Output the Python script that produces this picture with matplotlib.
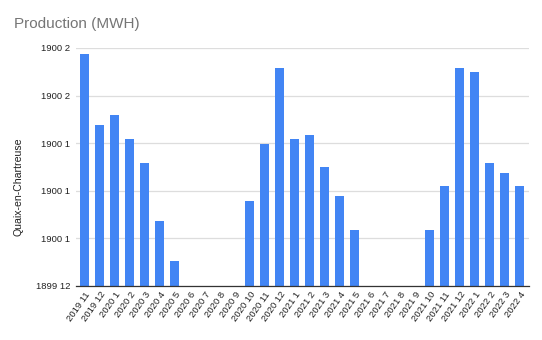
import matplotlib.pyplot as plt

plt.rcParams['font.family'] = ['Liberation Sans', 'DejaVu Sans']

months = ['2019 11', '2019 12',
          '2020 1', '2020 2', '2020 3', '2020 4', '2020 5', '2020 6',
          '2020 7', '2020 8', '2020 9', '2020 10', '2020 11', '2020 12',
          '2021 1', '2021 2', '2021 3', '2021 4', '2021 5', '2021 6',
          '2021 7', '2021 8', '2021 9', '2021 10', '2021 11', '2021 12',
          '2022 1', '2022 2', '2022 3', '2022 4']
production = [4.87, 3.39, 3.59, 3.08, 2.59, 1.37, 0.53, 0, 0, 0, 0,
              1.79, 2.98, 4.58, 3.08, 3.18, 2.49, 1.89, 1.18, 0, 0, 0, 0,
              1.18, 2.09, 4.58, 4.49, 2.59, 2.38, 2.09]
y_ticks = [0, 1, 2, 3, 4, 5]
y_tick_labels = ['1899 12', '1900 1', '1900 1', '1900 1', '1900 2', '1900 2']

fig = plt.figure(figsize=(5.42, 3.40), dpi=100)
ax = fig.add_axes([0.140, 0.159, 0.836, 0.700])

x = range(len(months))
ax.bar(x, production, width=0.6, color='#4285F4', zorder=3)

ax.set_xlim(-0.6, len(months) - 0.4)
ax.set_ylim(0, 5)
ax.set_yticks(y_ticks)
ax.set_yticklabels(y_tick_labels)
ax.set_xticks(list(x))
ax.set_xticklabels(months, rotation=55, ha='right', rotation_mode='anchor')

ax.tick_params(axis='both', length=0, labelsize=6.8, colors='#222222')
ax.tick_params(axis='y', pad=4)
ax.tick_params(axis='x', pad=3)
ax.grid(axis='y', color='#dddddd', linewidth=0.9, zorder=0)
for side in ['top', 'right', 'left']:
    ax.spines[side].set_visible(False)
ax.spines['bottom'].set_color('#333333')
ax.spines['bottom'].set_linewidth(0.9)
ax.spines['bottom'].set_zorder(4)

# axis title sits a little below the middle of the plot
fig.text(0.035, 0.45, 'Quaix-en-Chartreuse', fontsize=7.6, color='#222222',
         rotation=90, ha='center', va='center')
fig.text(0.026, 0.928, 'Production (MWH)', fontsize=11, color='#757575',
         ha='left', va='center')

fig.savefig('out.png', dpi=100)
